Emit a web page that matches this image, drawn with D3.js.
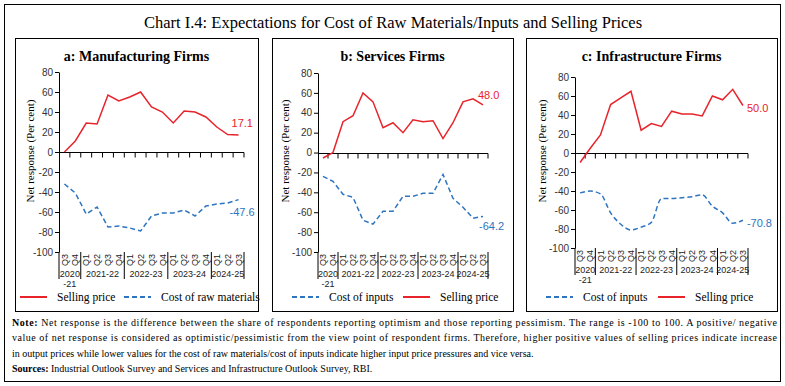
<!DOCTYPE html>
<html>
<head>
<meta charset="utf-8">
<script src="https://cdn.jsdelivr.net/npm/d3@7"></script>
<style>
  body { margin: 0; background: #fff; }
  svg { display: block; }
</style>
</head>
<body>
<script>

// quarters from 2020-21 Q3 to 2024-25 Q3
var quarters = ["Q3","Q4","Q1","Q2","Q3","Q4","Q1","Q2","Q3","Q4","Q1","Q2","Q3","Q4","Q1","Q2","Q3"];
var fiscalYears = ["2020-21","2021-22","2022-23","2023-24","2024-25"];
var quartersPerYear = [2, 4, 4, 4, 3];
var yTicks = [80, 60, 40, 20, 0, -20, -40, -60, -80, -100];

var mfgSelling   = [0, 11, 29, 28, 57, 51, 55, 60, 45, 40, 29, 41, 40, 35, 25, 17.5, 17.1];
var mfgRawCost   = [-32, -41, -62, -55, -75, -74, -76, -79, -64, -61, -61, -58, -64, -54, -52, -51, -47.6];
var svcSelling   = [-5.5, 0, 31, 37, 60, 51, 25, 30, 20, 33, 31, 32, 14, 30, 51, 54, 48.0];
var svcInputCost = [-24, -29, -42, -45, -68, -72, -59, -59, -44, -44, -41, -41, -22, -46, -55, -66, -64.2];
var infSelling   = [-10, 5, 19, 51, 58, 65, 24, 31, 28, 44, 41, 41, 39, 60, 56, 67, 50.0];
var infInputCost = [-42, -40, -43, -63, -75, -81, -78, -73, -48, -48, -47, -46, -44, -56, -63, -74, -70.8];

var red = "#e8232b", blue = "#2f74c0";
var serif = "'Liberation Serif', 'DejaVu Serif', serif";
var sans = "'Liberation Sans', Arial, sans-serif";

var W = 785, H = 386;

var svg = d3.select("body").append("svg")
	.attr("width", W)
	.attr("height", H)
	.style("background", "#fff");

// outer frame
svg.append("rect").attr("x", 4.5).attr("y", 4.5).attr("width", 776).attr("height", 377)
	.attr("fill", "none").attr("stroke", "#000");

svg.append("text")
	.attr("x", 393).attr("y", 28)
	.attr("text-anchor", "middle")
	.style("font-family", serif).style("font-size", "16.5px")
	.text("Chart I.4: Expectations for Cost of Raw Materials/Inputs and Selling Prices");

var panels = [
	{ title: "a: Manufacturing Firms", box: [15, 38, 243, 273], plot: [59, 244, 72, 252], axisLabelX: 30,
	  series: [
		{ values: mfgSelling, name: "Selling price", color: red, dash: null, lab: [-7, -12], curve: d3.curveLinear },
		{ values: mfgRawCost, name: "Cost of raw materials", color: blue, dash: "5,3", lab: [-9, 13], curve: d3.curveLinear }
	  ],
	  legend: [[20, 0], [124, 1]] },
	{ title: "b: Services Firms", box: [272, 38, 241, 273], plot: [318, 488, 73, 252], axisLabelX: 285,
	  series: [
		{ values: svcInputCost, name: "Cost of inputs", color: blue, dash: "5,3", lab: [-4, 10], curve: d3.curveLinear },
		{ values: svcSelling, name: "Selling price", color: red, dash: null, lab: [-5, -10], curve: d3.curveLinear }
	  ],
	  legend: [[292, 0], [403, 1]] },
	{ title: "c: Infrastructure Firms", box: [526, 38, 251, 273], plot: [575, 748, 77, 248], axisLabelX: 542,
	  series: [
		{ values: infInputCost, name: "Cost of inputs", color: blue, dash: "5,3", lab: [4, 3], curve: d3.curveMonotoneX },
		{ values: infSelling, name: "Selling price", color: red, dash: null, lab: [4, 3], curve: d3.curveLinear }
	  ],
	  legend: [[546, 0], [658, 1]] }
];

panels.forEach(function(p) {
	var g = svg.append("g");
	var x0 = p.plot[0], x1 = p.plot[1], yTop = p.plot[2], yBot = p.plot[3];

	g.append("rect").attr("x", p.box[0] + 0.5).attr("y", p.box[1] + 0.5)
		.attr("width", p.box[2]).attr("height", p.box[3])
		.attr("fill", "none").attr("stroke", "#000");

	g.append("text")
		.attr("x", p.box[0] + p.box[2] / 2).attr("y", 61)
		.attr("text-anchor", "middle")
		.style("font-family", serif).style("font-size", "14px").style("font-weight", "bold")
		.text(p.title);

	var x = d3.scaleBand().domain(d3.range(quarters.length)).range([x0, x1]);
	var y = d3.scaleLinear().domain([-100, 80]).range([yBot, yTop]);
	var bw = x.bandwidth();

	// y axis (plain hyphen minus, as in the source)
	var ya = g.append("g").attr("transform", "translate(" + x0 + ",0)")
		.call(d3.axisLeft(y).tickValues(yTicks).tickFormat(function(d) { return String(d); })
			.tickSize(4).tickSizeOuter(0).tickPadding(2));
	ya.selectAll("text").style("font-family", sans).style("font-size", "10px").attr("fill", "#333");
	ya.select(".domain").attr("stroke", "#000");

	g.append("text")
		.attr("transform", "translate(" + p.axisLabelX + "," + 151 + ") rotate(-90)")
		.attr("text-anchor", "middle").attr("dy", "0.35em")
		.style("font-family", serif).style("font-size", "11px")
		.text("Net response (Per cent)");

	// zero line with ticks at quarter boundaries
	var y0 = Math.round(y(0)) + 0.5;
	g.append("line").attr("x1", x0).attr("x2", x1).attr("y1", y0).attr("y2", y0).attr("stroke", "#000");
	g.selectAll(".qt").data(d3.range(1, quarters.length + 1)).enter().append("line")
		.attr("x1", function(i) { return x0 + i * bw; }).attr("x2", function(i) { return x0 + i * bw; })
		.attr("y1", y0).attr("y2", y0 + 5).attr("stroke", "#000");

	// quarter labels
	g.selectAll(".ql").data(quarters).enter().append("text")
		.attr("transform", function(d, i) { return "translate(" + (x(i) + bw / 2) + "," + (yBot + 14) + ") rotate(-90)"; })
		.attr("dy", "0.35em")
		.style("font-family", sans).style("font-size", "9px").attr("fill", "#222")
		.text(function(d) { return d; });

	// fiscal year groups
	var bounds = [0];
	quartersPerYear.forEach(function(n) { bounds.push(bounds[bounds.length - 1] + n); });
	g.selectAll(".ys").data(bounds).enter().append("line")
		.attr("x1", function(b) { return x0 + b * bw; }).attr("x2", function(b) { return x0 + b * bw; })
		.attr("y1", yBot).attr("y2", yBot + 27).attr("stroke", "#000");
	fiscalYears.forEach(function(fy, k) {
		var cx = x0 + (bounds[k] + bounds[k + 1]) / 2 * bw;
		var parts = quartersPerYear[k] < 3 ? [fy.slice(0, 4), fy.slice(4)] : [fy];
		parts.forEach(function(t, j) {
			g.append("text").attr("x", cx).attr("y", yBot + 25 + j * 10)
				.attr("text-anchor", "middle")
				.style("font-family", sans).style("font-size", "9px").attr("fill", "#222")
				.text(t);
		});
	});

	// series
	p.series.forEach(function(s) {
		var line = d3.line().curve(s.curve)
			.x(function(d, i) { return x(i) + bw / 2; })
			.y(function(d) { return y(d); });
		g.append("path").datum(s.values)
			.attr("d", line)
			.attr("fill", "none").attr("stroke", s.color).attr("stroke-width", 1.5)
			.attr("stroke-dasharray", s.dash);
		var last = s.values.length - 1;
		g.append("text")
			.attr("x", x(last) + bw / 2 + s.lab[0]).attr("y", y(s.values[last]) + s.lab[1])
			.attr("dy", "0.35em")
			.style("font-family", sans).style("font-size", "11px").attr("fill", s.color)
			.text(s.values[last].toFixed(1));
	});

	// legend
	p.legend.forEach(function(l) {
		var s = p.series[l[1]];
		g.append("line").attr("x1", l[0]).attr("x2", l[0] + 27).attr("y1", 297).attr("y2", 297)
			.attr("stroke", s.color).attr("stroke-width", 2).attr("stroke-dasharray", s.dash);
		g.append("text").attr("x", l[0] + 37).attr("y", 297).attr("dy", "0.35em")
			.style("font-family", serif).style("font-size", "11.5px")
			.text(s.name);
	});
});

// note lines
var notes = [
	["Note: ", "Net response is the difference between the share of respondents reporting optimism and those reporting pessimism. The range is -100 to 100. A positive/ negative", 765],
	["", "value of net response is considered as optimistic/pessimistic from the view point of respondent firms. Therefore, higher positive values of selling prices indicate increase", 765],
	["", "in output prices while lower values for the cost of raw materials/cost of inputs indicate higher input price pressures and vice versa.", null],
	["Sources: ", "Industrial Outlook Survey and Services and Infrastructure Outlook Survey, RBI.", null]
];
notes.forEach(function(n, i) {
	var t = svg.append("text").attr("x", 12).attr("y", 326 + i * 15.3)
		.style("font-family", serif).style("font-size", "10px");
	if (n[2]) t.attr("textLength", n[2]).attr("lengthAdjust", "spacing");
	if (n[0]) t.append("tspan").style("font-weight", "bold").text(n[0]);
	t.append("tspan").text(n[1]);
});

</script>
</body>
</html>
